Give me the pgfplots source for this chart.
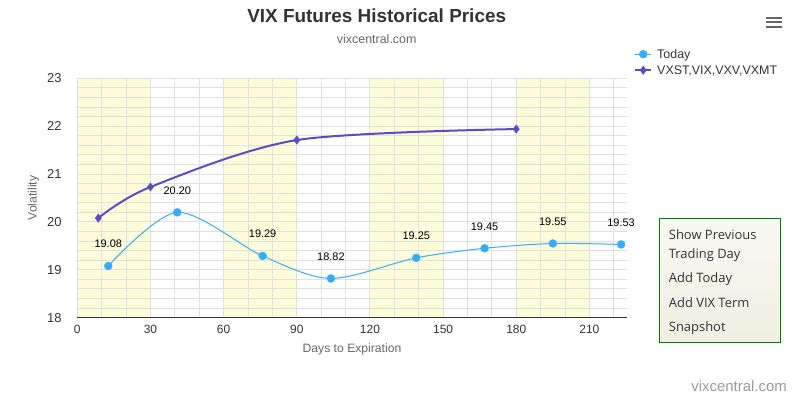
\documentclass[border=0pt]{standalone}
\usepackage{pgfplots}
\pgfplotsset{compat=1.18}
\usepackage{fontspec}
\setmainfont{Liberation Sans}
\newfontfamily\boxfont{Open Sans}
\pgfkeys{/pgf/number format/assume math mode=true}
\definecolor{todayc}{HTML}{35ACF5}
\definecolor{vixc}{HTML}{584DC4}
\definecolor{band}{HTML}{FDFDD9}
\definecolor{gridc}{HTML}{E0E0E0}
\definecolor{txt}{HTML}{333333}
\definecolor{lbl}{HTML}{666666}
\definecolor{cred}{HTML}{999999}
\definecolor{boxg}{HTML}{008000}
\definecolor{boxtop}{HTML}{F9F9F4}
\definecolor{boxbot}{HTML}{F1EEE1}
\begin{document}
\begin{tikzpicture}[x=1bp,y=1bp]
\path (0,0) rectangle (796,397);
% titles
\node[anchor=base, font=\bfseries\fontsize{19}{19}\selectfont, text=txt, inner sep=0pt] at (376.7,374.3) {VIX Futures Historical Prices};
\node[anchor=base, font=\fontsize{12.5}{12.5}\selectfont, text=lbl, inner sep=0pt] at (376.7,353.7) {vixcentral.com};
% hamburger
\draw[lbl, line width=2bp] (766,379.2) -- (782,379.2) (766,375) -- (782,375) (766,369.7) -- (782,369.7);
\begin{axis}[
  at={(77.3bp,79.3bp)}, anchor=south west,
  width=549.4bp, height=239.4bp, scale only axis,
  xmin=0, xmax=225.3, ymin=18, ymax=23,
  set layers, clip=false,
  /pgf/number format/assume math mode=true,
  xtick={0,30,...,210},
  minor xtick={10,20,40,50,70,80,100,110,130,140,160,170,190,200,220},
  ytick={18,19,20,21,22,23},
  minor ytick={18.2,18.4,18.6,18.8,19.2,19.4,19.6,19.8,20.2,20.4,20.6,20.8,21.2,21.4,21.6,21.8,22.2,22.4,22.6,22.8},
  extra y ticks={18}, extra y tick labels={},
  extra y tick style={grid=major, major grid style={txt, line width=1bp}},
  grid=both,
  major grid style={gridc, line width=1bp},
  minor grid style={gridc, line width=1bp},
  major tick length=0pt, minor tick length=0pt,
  axis line style={draw=none},
  yticklabel style={font=\fontsize{13}{13}\selectfont, text=txt, inner sep=0pt, anchor=east, xshift=-15.6bp},
  xticklabel style={font=\fontsize{12}{12}\selectfont, text=txt, inner sep=0pt, anchor=north, yshift=-7.3bp},
  legend style={at={(axis description cs:1.0133,1.1203)}, anchor=north west, draw=none, fill=none,
    inner sep=0pt, row sep=7bp, column sep=5bp, text=txt,
    font=\fontsize{12.5}{12.5}\selectfont,
    nodes={inner sep=0pt, text height=9bp, text depth=0bp}},
  legend cell align=left,
  legend image code/.code={\draw[mark repeat=2,mark phase=2,#1] plot coordinates {(0bp,0bp) (8bp,0bp) (16bp,0bp)};},
]
\addplot[fill=band, draw=none, forget plot, on layer=axis background] coordinates {(0,18) (0,23) (30,23) (30,18) (0,18)};
\addplot[fill=band, draw=none, forget plot, on layer=axis background] coordinates {(60,18) (60,23) (90,23) (90,18) (60,18)};
\addplot[fill=band, draw=none, forget plot, on layer=axis background] coordinates {(120,18) (120,23) (150,23) (150,18) (120,18)};
\addplot[fill=band, draw=none, forget plot, on layer=axis background] coordinates {(180,18) (180,23) (210,23) (210,18) (180,18)};
\addplot[todayc, line width=1bp, smooth, mark=*, mark size=4bp, mark options={solid, fill=todayc, draw=todayc, line width=0.3bp},
  nodes near coords={\pgfmathprintnumber[fixed,fixed zerofill,precision=2,assume math mode=true]{\pgfplotspointmeta}},
  every node near coord/.append style={text=black, font=\fontsize{11}{11}\selectfont, anchor=center, yshift=22bp, inner sep=0pt}]
  coordinates {(12.7,19.08) (41,20.20) (76,19.29) (104,18.82) (139,19.25) (167,19.45) (195,19.55) (223,19.53)};
\addlegendentry{Today}
\addplot[vixc, line width=2bp, smooth, mark=diamond*, mark size=4.2bp, mark options={solid, fill=vixc, line width=0.3bp}]
  coordinates {(8.6,20.08) (30,20.73) (90,21.71) (180,21.94)};
\addlegendentry{VXST,VIX,VXV,VXMT}
\end{axis}
% axis titles
\node[anchor=base, font=\fontsize{12.2}{12.2}\selectfont, text=lbl, inner sep=0pt] at (352,44.3) {Days to Expiration};
\node[rotate=90, font=\fontsize{12.2}{12.2}\selectfont, text=lbl, inner sep=0pt] at (33.5,199) {Volatility};
% button box
\draw[boxg, line width=1.2bp, top color=boxtop, bottom color=boxbot] (659.3,178.3) rectangle (780.3,54.7);
\begin{scope}[every node/.style={anchor=base west, inner sep=0pt, font=\boxfont\fontsize{13}{13}\selectfont, text=txt}]
\node at (668.7,157.7) {Show Previous};
\node at (668.7,138.7) {Trading Day};
\node at (668.7,115) {Add Today};
\node at (668.7,90) {Add VIX Term};
\node at (668.7,66) {Snapshot};
\end{scope}
% credits
\node[anchor=base east, font=\fontsize{15}{15}\selectfont, text=cred, inner sep=0pt] at (787,5.5) {vixcentral.com};
\end{tikzpicture}
\end{document}
